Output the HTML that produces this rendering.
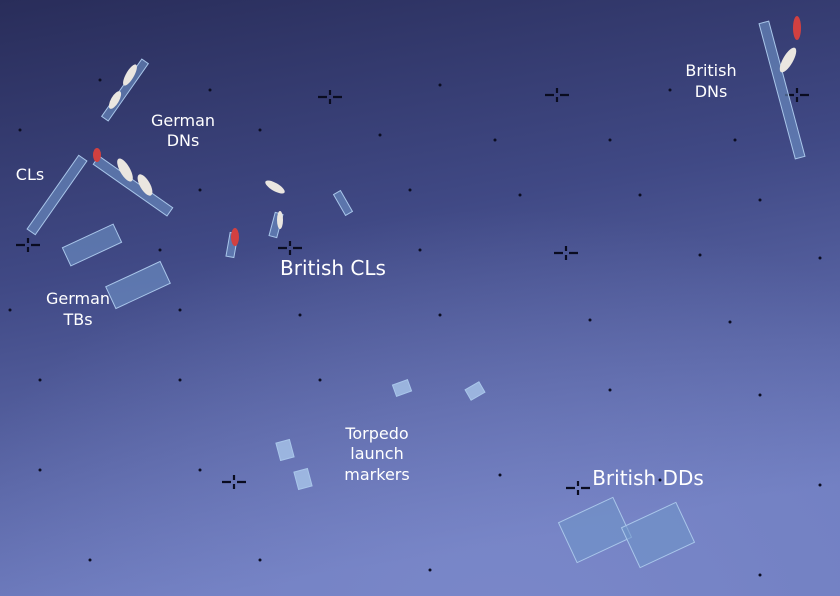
<!DOCTYPE html>
<html><head><meta charset="utf-8"><style>
html,body{margin:0;padding:0;}
body{width:840px;height:596px;overflow:hidden;}
svg{display:block;}
text{font-family:"DejaVu Sans","Liberation Sans",sans-serif;fill:#fff;}
</style></head><body>
<svg width="840" height="596" viewBox="0 0 840 596" xmlns="http://www.w3.org/2000/svg">
<defs>
<linearGradient id="bg" x1="0" y1="0" x2="0.25" y2="1">
<stop offset="0" stop-color="#292d5a"/>
<stop offset="0.45" stop-color="#404985"/>
<stop offset="1" stop-color="#6f7dc0"/>
</linearGradient>
<radialGradient id="glow" cx="0.6" cy="1.05" r="0.7">
<stop offset="0" stop-color="#8592d2" stop-opacity="0.5"/>
<stop offset="1" stop-color="#8592d2" stop-opacity="0"/>
</radialGradient>
<g id="x"><path d="M-12 0H-3M3 0H12M0 -7V-2M0 2V7" stroke="#0a0c20" stroke-width="2.2"/></g>
</defs>
<rect width="840" height="596" fill="url(#bg)"/>
<rect width="840" height="596" fill="url(#glow)"/>
<g fill="#0b0d22">
<circle cx="100" cy="80" r="1.5"/><circle cx="210" cy="90" r="1.5"/><circle cx="440" cy="85" r="1.5"/><circle cx="670" cy="90" r="1.5"/>
<circle cx="20" cy="130" r="1.5"/><circle cx="260" cy="130" r="1.5"/><circle cx="380" cy="135" r="1.5"/><circle cx="495" cy="140" r="1.5"/><circle cx="610" cy="140" r="1.5"/><circle cx="735" cy="140" r="1.5"/>
<circle cx="200" cy="190" r="1.5"/><circle cx="410" cy="190" r="1.5"/><circle cx="520" cy="195" r="1.5"/><circle cx="640" cy="195" r="1.5"/><circle cx="760" cy="200" r="1.5"/>
<circle cx="160" cy="250" r="1.5"/><circle cx="420" cy="250" r="1.5"/><circle cx="700" cy="255" r="1.5"/><circle cx="820" cy="258" r="1.5"/>
<circle cx="10" cy="310" r="1.5"/><circle cx="180" cy="310" r="1.5"/><circle cx="300" cy="315" r="1.5"/><circle cx="440" cy="315" r="1.5"/><circle cx="590" cy="320" r="1.5"/><circle cx="730" cy="322" r="1.5"/>
<circle cx="40" cy="380" r="1.5"/><circle cx="180" cy="380" r="1.5"/><circle cx="320" cy="380" r="1.5"/><circle cx="610" cy="390" r="1.5"/><circle cx="760" cy="395" r="1.5"/>
<circle cx="40" cy="470" r="1.5"/><circle cx="200" cy="470" r="1.5"/><circle cx="500" cy="475" r="1.5"/><circle cx="660" cy="480" r="1.5"/><circle cx="820" cy="485" r="1.5"/>
<circle cx="90" cy="560" r="1.5"/><circle cx="260" cy="560" r="1.5"/><circle cx="430" cy="570" r="1.5"/><circle cx="760" cy="575" r="1.5"/>
</g>
<use href="#x" x="330" y="97"/><use href="#x" x="557" y="95"/><use href="#x" x="797" y="95"/>
<use href="#x" x="28" y="245"/><use href="#x" x="290" y="248"/><use href="#x" x="566" y="253"/>
<use href="#x" x="234" y="482"/><use href="#x" x="578" y="488"/>
<g fill="#6f95c8" fill-opacity="0.6" stroke="#a9c6ea" stroke-width="1">
<rect x="-4" y="-35" width="8" height="70" transform="translate(125 90) rotate(35)"/>
<rect x="-5" y="-45" width="10" height="90" transform="translate(57 195) rotate(35)"/>
<rect x="-5" y="-45" width="10" height="90" transform="translate(133 186) rotate(-55)"/>
<rect x="-28" y="-10" width="56" height="20" transform="translate(92 245) rotate(-25)"/>
<rect x="-30" y="-12" width="60" height="24" transform="translate(138 285) rotate(-25)"/>
<rect x="-4" y="-12" width="8" height="24" transform="translate(232 245) rotate(10)"/>
<rect x="-4" y="-12" width="8" height="24" transform="translate(276 225) rotate(15)"/>
<rect x="-4" y="-12" width="8" height="24" transform="translate(343 203) rotate(-30)"/>
<rect x="-5" y="-70" width="10" height="140" transform="translate(782 90) rotate(-15)"/>
<rect x="-8" y="-6" width="16" height="12" transform="translate(402 388) rotate(-20)" fill="#a9c6ea" fill-opacity="0.8"/>
<rect x="-8" y="-6" width="16" height="12" transform="translate(475 391) rotate(-30)" fill="#a9c6ea" fill-opacity="0.8"/>
<rect x="-7" y="-9" width="14" height="18" transform="translate(285 450) rotate(-15)" fill="#a9c6ea" fill-opacity="0.8"/>
<rect x="-7" y="-9" width="14" height="18" transform="translate(303 479) rotate(-15)" fill="#a9c6ea" fill-opacity="0.8"/>
<rect x="-30" y="-22" width="60" height="44" transform="translate(595 530) rotate(-25)"/>
<rect x="-30" y="-22" width="60" height="44" transform="translate(658 535) rotate(-25)"/>
</g>
<g fill="#eae6e0">
<ellipse cx="130" cy="75" rx="4" ry="12" transform="rotate(30 130 75)"/>
<ellipse cx="115" cy="100" rx="4" ry="10" transform="rotate(30 115 100)"/>
<ellipse cx="125" cy="170" rx="5" ry="13" transform="rotate(-30 125 170)"/>
<ellipse cx="145" cy="185" rx="5" ry="12" transform="rotate(-30 145 185)"/>
<ellipse cx="275" cy="187" rx="4" ry="11" transform="rotate(-60 275 187)"/>
<ellipse cx="280" cy="220" rx="3" ry="9"/>
<ellipse cx="788" cy="60" rx="5" ry="14" transform="rotate(30 788 60)"/>
</g>
<g fill="#d24040">
<ellipse cx="97" cy="155" rx="4" ry="7"/><ellipse cx="235" cy="237" rx="4" ry="9"/><ellipse cx="797" cy="28" rx="4" ry="12"/>
</g>
<g font-size="16" text-anchor="middle">
<text x="183" y="126">German</text><text x="183" y="146">DNs</text>
<text x="30" y="180">CLs</text>
<text x="78" y="304">German</text><text x="78" y="325">TBs</text>
<text x="711" y="76">British</text><text x="711" y="97">DNs</text>
<text x="377" y="439">Torpedo</text><text x="377" y="459">launch</text><text x="377" y="480">markers</text>
</g>
<text x="333" y="275" font-size="20" text-anchor="middle">British CLs</text>
<text x="648" y="485" font-size="20" text-anchor="middle">British DDs</text>
</svg>
</body></html>
